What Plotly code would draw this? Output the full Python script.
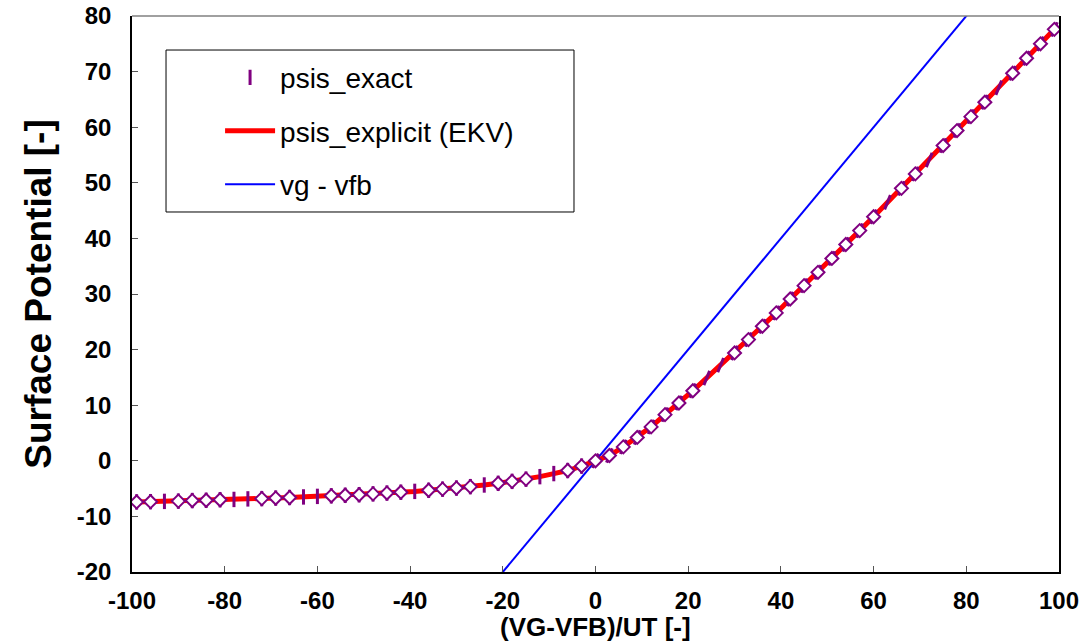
import plotly.graph_objects as go

# ---- data ----
vg_norm = [-99, -96, -93, -90, -87, -84, -81, -78, -75, -72, -69, -66, -63, -60,
           -57, -54, -51, -48, -45, -42, -39, -36, -33, -30, -27, -24, -21, -18,
           -15, -12, -9, -6, -3, 0, 3, 6, 9, 12, 15, 18, 21, 24, 27, 30, 33, 36,
           39, 42, 45, 48, 51, 54, 57, 60, 63, 66, 69, 72, 75, 78, 81, 84, 87,
           90, 93, 96, 99]

psis_exact = [-7.4, -7.35, -7.3, -7.25, -7.15, -7.1, -7.0, -6.95, -6.85, -6.8,
              -6.7, -6.6, -6.5, -6.4,
              -6.3, -6.2, -6.1, -5.95, -5.8, -5.65, -5.5, -5.3, -5.1, -4.9,
              -4.65, -4.35, -4.05, -3.7, -3.3, -2.85, -2.3, -1.75, -0.95,
              0.0, 0.95, 2.5, 4.2, 6.1, 8.3, 10.4, 12.6, 14.9, 17.2, 19.4, 21.8,
              24.2, 26.6, 29.1, 31.5, 33.9, 36.4, 38.9, 41.4, 43.9, 46.5, 49.0,
              51.6, 54.1, 56.7, 59.4, 61.9, 64.5, 67.1, 69.7, 72.4, 75.0, 77.6]

psis_explicit = list(psis_exact)

# points where only the tick marker (no diamond) is visible
tick_only_x = [-93, -78, -75, -63, -60, -39, -24, -12, -9, 24, 27, 63, 72, 87]

vfb_line_x = [-100, 100]
vfb_line_y = [-100, 100]

x_ticks = [-100, -80, -60, -40, -20, 0, 20, 40, 60, 80, 100]
y_ticks = [-20, -10, 0, 10, 20, 30, 40, 50, 60, 70, 80]
x_tick_text = [str(v) for v in x_ticks]
y_tick_text = [str(v) for v in y_ticks]

x_title = "(VG-VFB)/UT [-]"
y_title = "Surface Potential [-]"

# ---- derived selections ----
dia_x = [x for x in vg_norm if x not in tick_only_x]
dia_y = [y for x, y in zip(vg_norm, psis_exact) if x not in tick_only_x]
tick_angles = [0 if x < 0 else 22 for x in vg_norm]

PURPLE = "#800080"
FONT = "Liberation Sans, Arial, sans-serif"

fig = go.Figure()

fig.add_trace(go.Scatter(
    x=vfb_line_x, y=vfb_line_y, mode="lines", name="vg - vfb",
    line=dict(color="#0000FF", width=2), legendrank=3, legendgroup="c"))

fig.add_trace(go.Scatter(
    x=vg_norm, y=psis_explicit, mode="lines", name="psis_explicit (EKV)",
    line=dict(color="#FF0000", width=5), legendrank=2, legendgroup="b"))

fig.add_trace(go.Scatter(
    x=vg_norm, y=psis_exact, mode="markers", name="psis_exact",
    marker=dict(symbol="line-ns-open", size=11, angle=tick_angles, color=PURPLE,
                line=dict(color=PURPLE, width=3)),
    legendrank=1, legendgroup="a"))

fig.add_trace(go.Scatter(
    x=dia_x, y=dia_y, mode="markers", showlegend=False,
    marker=dict(symbol="diamond", size=10, color="white",
                line=dict(color=PURPLE, width=2))))

# legend frame
fig.add_shape(type="rect", xref="paper", yref="paper",
              x0=0.0367, x1=0.4768, y0=0.6475, y1=0.9388,
              line=dict(color="black", width=1), fillcolor="white", layer="below")
# top border (gray)
fig.add_shape(type="line", xref="paper", yref="paper", x0=0, x1=1, y0=1, y1=1,
              line=dict(color="#808080", width=1.5))

# x-axis title as annotation (sits just under the tick labels, as in the reference)
fig.add_annotation(text="<b>" + x_title + "</b>", xref="paper", yref="paper",
                   x=0.5, y=-0.1277, xanchor="center", yanchor="bottom",
                   showarrow=False, borderpad=0,
                   font=dict(size=26, family=FONT, color="black"))

fig.update_layout(
    width=1080, height=643,
    margin=dict(l=132, r=21, t=16, b=71),
    plot_bgcolor="white", paper_bgcolor="white",
    font=dict(family=FONT, color="black"),
    showlegend=True,
    legend=dict(x=0.095, y=0.934, xanchor="left", yanchor="top",
                bgcolor="rgba(0,0,0,0)", borderwidth=0,
                font=dict(size=28, family=FONT), itemwidth=50,
                tracegroupgap=14, traceorder="grouped"),
    xaxis=dict(range=[-100, 100], tickvals=x_ticks, ticktext=x_tick_text,
               ticks="inside", ticklen=6, automargin=False,
               tickcolor="#555", showline=True, linecolor="black", linewidth=1.5,
               showgrid=False, zeroline=False, mirror=False,
               tickfont=dict(size=24, family=FONT, weight="bold"),
               ticklabelstandoff=6),
    yaxis=dict(range=[-20, 80], tickvals=y_ticks, ticktext=y_tick_text,
               ticks="inside", ticklen=6, automargin=False,
               tickcolor="#555", showline=True, linecolor="black", linewidth=1.5,
               showgrid=False, zeroline=False, mirror=True,
               tickfont=dict(size=24, family=FONT, weight="bold"),
               ticklabelstandoff=14,
               title=dict(text="<b>" + y_title + "</b>", font=dict(size=37, family=FONT),
                          standoff=14)),
)

fig.write_html("out.html")
